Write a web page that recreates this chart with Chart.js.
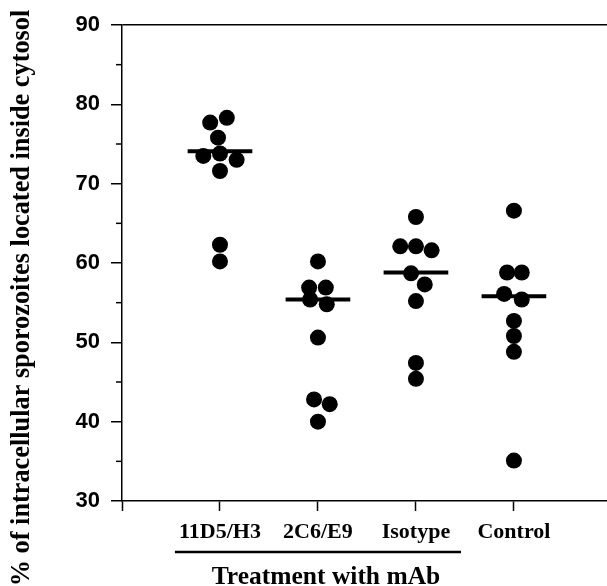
<!DOCTYPE html>
<html><head><meta charset="utf-8">
<script src="https://cdn.jsdelivr.net/npm/chart.js@4.4.0/dist/chart.umd.min.js"></script>
<style>html,body{margin:0;padding:0;background:#fff;}canvas{display:block;}</style>
</head><body>
<canvas id="c" width="607" height="586"></canvas>
<script>
const categories = ['11D5/H3', '2C6/E9', 'Isotype', 'Control'];
const yMinorTicks = [35, 45, 55, 65, 75, 85];

const values11D5 = [78.3, 77.7, 75.8, 73.8, 73.5, 73.0, 71.6, 62.3, 60.2];
const jitter11D5 = [0.07, -0.10, -0.02, 0, -0.17, 0.17, 0, 0, 0];
const values2C6 = [60.2, 56.9, 56.9, 55.4, 54.8, 50.6, 42.8, 42.2, 40.0];
const jitter2C6 = [0, -0.09, 0.08, -0.08, 0.09, 0, -0.04, 0.12, 0];
const valuesIsotype = [65.8, 62.1, 62.1, 61.6, 58.7, 57.3, 55.2, 47.4, 45.4];
const jitterIsotype = [0, -0.16, 0, 0.16, -0.05, 0.09, 0, 0, 0];
const valuesControl = [66.6, 58.8, 58.8, 56.1, 55.4, 52.7, 50.8, 48.8, 35.1];
const jitterControl = [0, -0.07, 0.08, -0.10, 0.08, 0, 0, 0, 0];
const groupMeans = [74.1, 55.4, 58.8, 55.8];

const yAxisTitle = '% of intracellular sporozoites located inside cytosol';
const xAxisTitle = 'Treatment with mAb';

const groups = [
  [values11D5, jitter11D5],
  [values2C6, jitter2C6],
  [valuesIsotype, jitterIsotype],
  [valuesControl, jitterControl]
];

const datasets = [];
groups.forEach(([vals, jit], i) => {
  datasets.push({
    type: 'scatter',
    data: vals.map((v, j) => ({ x: i + 1 + jit[j], y: v })),
    backgroundColor: '#000',
    borderColor: '#000',
    pointRadius: 8,
    pointHoverRadius: 8,
    borderWidth: 0
  });
});
groupMeans.forEach((m, i) => {
  datasets.push({
    type: 'line',
    data: [{ x: i + 1 - 0.33, y: m }, { x: i + 1 + 0.33, y: m }],
    borderColor: '#000',
    borderWidth: 4,
    borderCapStyle: 'butt',
    pointRadius: 0,
    fill: false
  });
});

const decor = {
  id: 'decor',
  afterDraw(chart) {
    const ctx = chart.ctx;
    const y = chart.scales.y, x = chart.scales.x;
    const left = chart.chartArea.left;
    ctx.save();
    ctx.strokeStyle = '#000';
    ctx.lineWidth = 1.5;
    yMinorTicks.forEach(v => {
      const py = y.getPixelForValue(v);
      ctx.beginPath();
      ctx.moveTo(left - 6, py);
      ctx.lineTo(left, py);
      ctx.stroke();
    });
    // underline for mAb treatments
    ctx.lineWidth = 2.5;
    ctx.beginPath();
    ctx.moveTo(x.getPixelForValue(0.54), 552);
    ctx.lineTo(x.getPixelForValue(3.46), 552);
    ctx.stroke();
    // x title
    ctx.fillStyle = '#000';
    ctx.font = 'bold 25.5px "Liberation Serif"';
    ctx.textAlign = 'center';
    ctx.textBaseline = 'alphabetic';
    ctx.fillText(xAxisTitle, 326, 584);
    // y title
    ctx.translate(29, 298);
    ctx.rotate(-Math.PI / 2);
    ctx.font = 'bold 26.3px "Liberation Serif"';
    ctx.fillText(yAxisTitle, 0, 0);
    ctx.restore();
  }
};

new Chart(document.getElementById('c'), {
  data: { datasets },
  options: {
    responsive: false,
    animation: false,
    devicePixelRatio: 1,
    layout: { autoPadding: false, padding: { top: 25, left: 0, right: 0, bottom: 0 } },
    plugins: { legend: { display: false }, tooltip: { enabled: false } },
    scales: {
      x: {
        type: 'linear',
        min: 0,
        max: 4.95,
        afterBuildTicks: s => { s.ticks = [0, 1, 2, 3, 4].map(v => ({ value: v })); },
        afterFit: s => { s.height = 85; s.paddingLeft = 0; s.paddingRight = 0; },
        ticks: {
          callback: v => categories[v - 1] || '',
          font: { family: 'Liberation Serif', weight: 'bold', size: 22 },
          color: '#000',
          padding: 8,
          maxRotation: 0,
          autoSkip: false
        },
        grid: { drawOnChartArea: false, drawTicks: true, tickLength: 10, tickColor: '#000', tickWidth: 1.5 },
        border: { display: true, color: '#000', width: 1.5 }
      },
      y: {
        type: 'linear',
        min: 30,
        max: 90,
        afterFit: s => { s.width = 122; s.paddingTop = 0; s.paddingBottom = 0; },
        ticks: {
          stepSize: 10,
          font: { family: 'Liberation Sans', weight: 'bold', size: 22 },
          color: '#000',
          padding: 11
        },
        grid: {
          drawOnChartArea: true,
          color: c => (c.tick && c.tick.value === 90) ? '#000' : 'rgba(0,0,0,0)',
          lineWidth: 1.5,
          tickColor: '#000',
          tickLength: 11,
          tickWidth: 1.5
        },
        border: { display: true, color: '#000', width: 1.5 }
      }
    }
  },
  plugins: [decor]
});
</script>
</body></html>
